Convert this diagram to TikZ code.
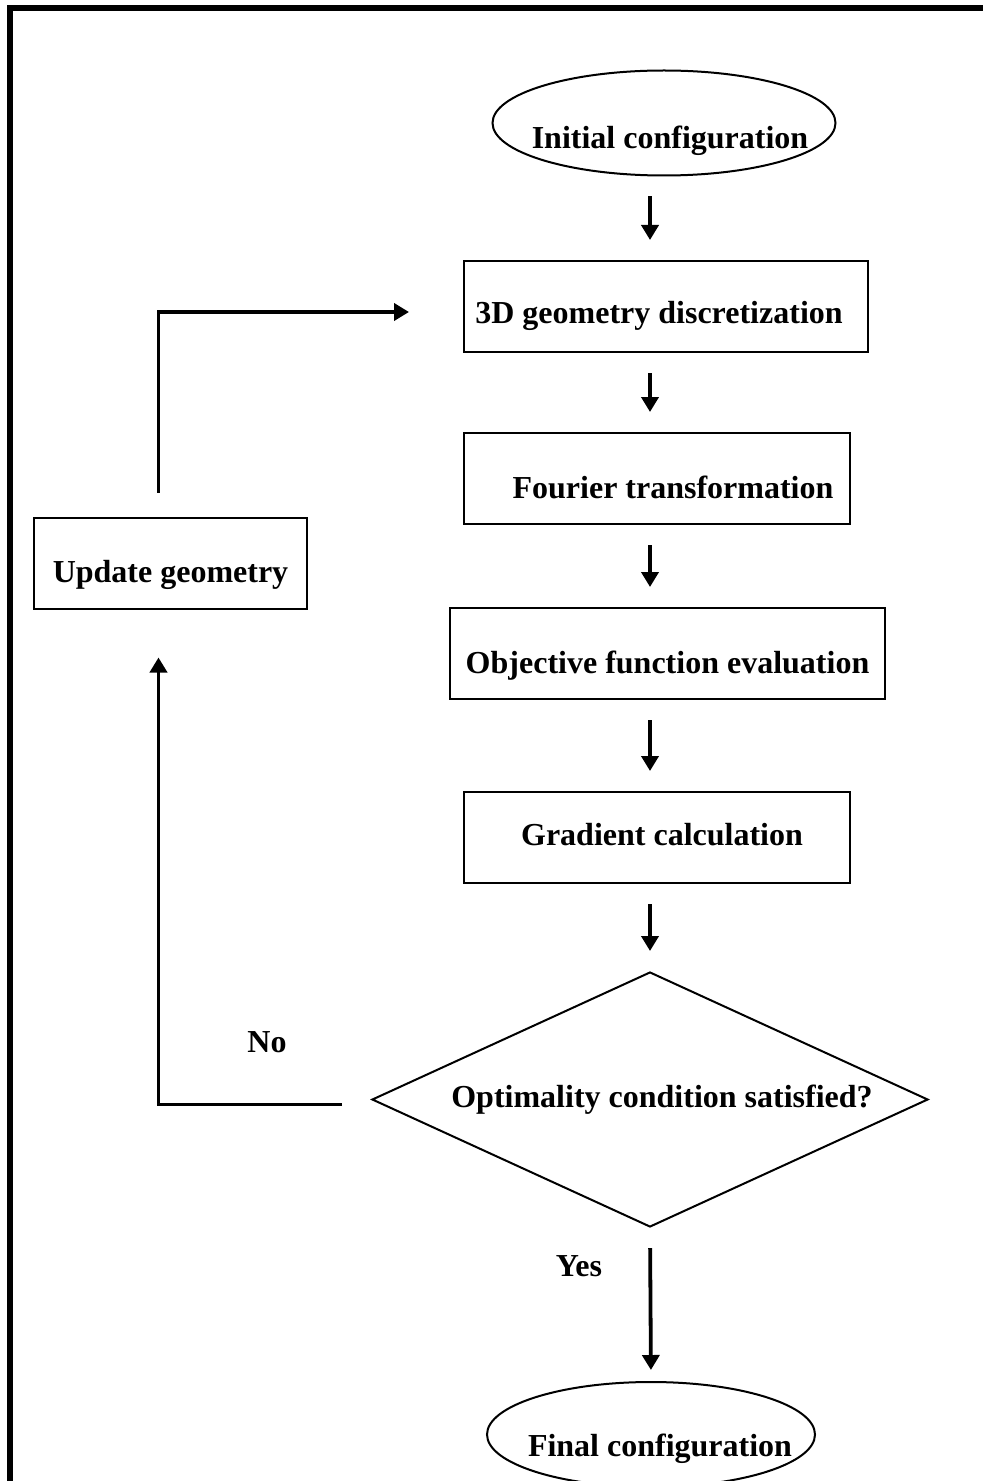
\documentclass[tikz,border=0pt]{standalone}
\usepackage{fontspec}
\setmainfont{Liberation Serif}
\usepackage{tikz}
\usetikzlibrary{arrows.meta,positioning,shapes.geometric}

\begin{document}
\begin{tikzpicture}[
    >={Triangle[length=7.5pt,width=8.5pt]},
    txt/.style={font=\fontsize{16}{19}\selectfont\bfseries},
    lowtxt/.style={txt, text height=19.5pt, text depth=0pt},
    box/.style={draw, line width=1pt, minimum height=45.5pt, minimum width=#1,
                inner sep=0pt, lowtxt},
    box/.default=193pt,
    term/.style={draw, line width=1pt, ellipse, minimum width=#1,
                 minimum height=52.5pt, inner sep=0pt},
    term/.default=171.5pt,
    decision/.style={draw, line width=1pt, diamond, aspect=2.2, minimum width=278pt,
                     minimum height=127.5pt, inner sep=0pt, txt},
    arr/.style={->, line width=1.9pt, shorten <=10pt, shorten >=10pt},
]
\useasboundingbox (0,0) rectangle (491.5pt,-740.5pt);

% --- Frame (top and left edges only) ---
\draw[line width=3pt] (5pt,-745pt) -- (5pt,-4pt) -- (495pt,-4pt);

% --- Nodes ---
\node[term, label={[lowtxt, xshift=3pt, yshift=-3pt]center:Initial configuration}]
    (init) at (332pt,-61.5pt) {};
\node[box=202pt, below=41.75pt of init, xshift=1pt, text height=17pt] (discret) {3D geometry discretization\hspace*{7pt}};
\node[box, below=39.5pt of discret, xshift=-4.5pt] (fourier) {\hspace*{16pt}Fourier transformation};
\node[box=217.5pt, below=41pt of fourier, xshift=5.25pt] (objfun) {Objective function evaluation};
\node[box, below=45.5pt of objfun, xshift=-5.25pt, text height=12pt, text depth=4pt] (gradient) {\hspace*{5pt}Gradient calculation};
\node[decision, below=43.5pt of gradient, xshift=-3.5pt] (optcond) {\hspace*{12pt}Optimality condition satisfied?};
\node[term=164pt, below=76.5pt of optcond, xshift=0.5pt,
      label={[lowtxt, xshift=4.5pt, yshift=-1pt]center:Final configuration}] (final) {};
\node[box=136.5pt] (update) at (85.25pt,-281.5pt) {Update geometry};

% Yes / No
\node[txt] (no) at ([xshift=-52pt, yshift=28.5pt]optcond.west) {No};
\node[txt] (yes) at ([xshift=-35.5pt, yshift=-19pt]optcond.south) {Yes};

% --- Arrows ---
\draw[arr] (init.south -| optcond) -- (discret.north -| optcond);
\draw[arr] (discret.south -| optcond) -- (fourier.north -| optcond);
\draw[arr] (fourier.south -| optcond) -- (objfun.north -| optcond);
\draw[arr] (objfun.south -| optcond) -- (gradient.north -| optcond);
\draw[arr] (gradient.south -| optcond) -- (optcond.north);
\draw[arr, shorten >=5.5pt] (optcond.south) -- (final.north);

% --- Feedback loop ---
\draw[arr, shorten <=14.5pt, shorten >=24pt] ([yshift=-2.5pt]optcond.west) -| ([xshift=-6pt]update.south);
\draw[arr, shorten <=12pt, shorten >=27pt] ([xshift=-6pt]update.north) |- ([yshift=-2.75pt]discret.west);

\end{tikzpicture}
\end{document}
